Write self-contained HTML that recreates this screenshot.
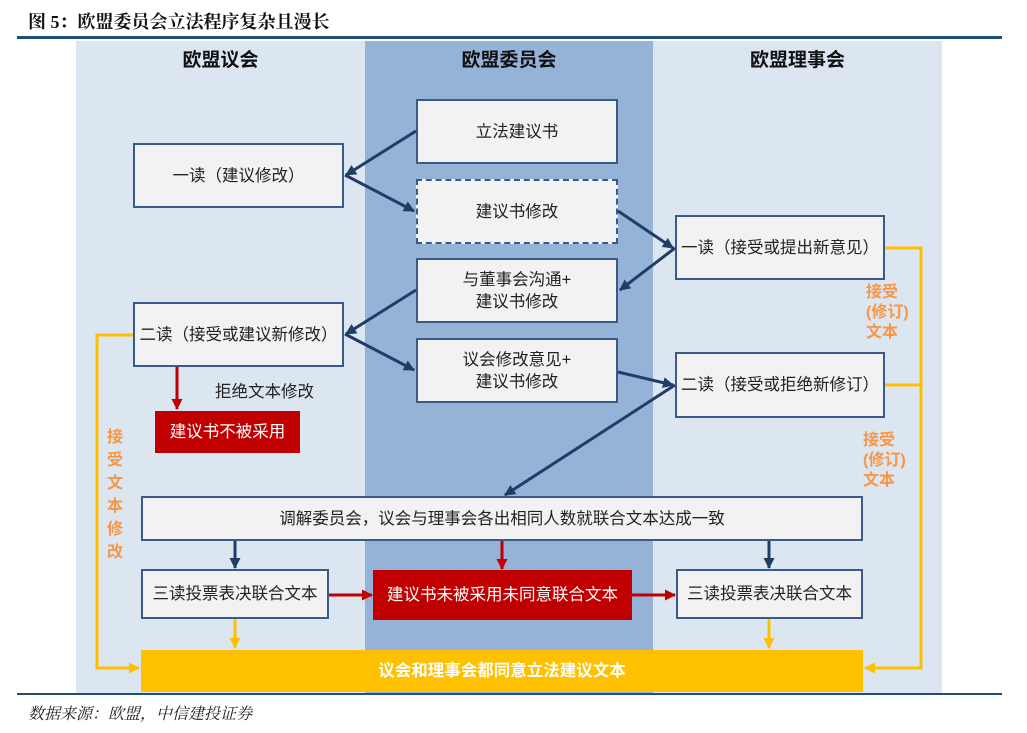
<!DOCTYPE html>
<html><head><meta charset="utf-8"><style>
body{margin:0;width:1027px;height:733px;background:#fff;position:relative;overflow:hidden;font-family:"Liberation Sans","Noto Sans CJK SC",sans-serif}
.a{position:absolute}
.box{position:absolute;box-sizing:border-box;background:#f2f2f2;border:2px solid #3a5a8a;display:flex;align-items:center;justify-content:center;text-align:center;font-size:16.5px;color:#222;line-height:22px;white-space:nowrap}
.hd{position:absolute;font-weight:bold;font-size:19px;color:#111;text-align:center}
.or{position:absolute;color:#f79646;font-weight:bold;font-size:16px;line-height:20px}
</style></head><body>
<div class="a" style="left:28px;top:8px;font-size:18px;font-weight:bold;color:#111;font-family:'Liberation Serif','Noto Serif CJK SC',serif">图 5：欧盟委员会立法程序复杂且漫长</div>
<div class="a" style="left:17px;top:36px;width:985px;height:3px;background:#1f4e79"></div>
<div class="a" style="left:76px;top:41px;width:289px;height:652px;background:#dce6f1"></div>
<div class="a" style="left:365px;top:41px;width:288px;height:652px;background:#95b3d7"></div>
<div class="a" style="left:653px;top:41px;width:289px;height:652px;background:#dce6f1"></div>
<div class="a" style="left:17px;top:693px;width:985px;height:2px;background:#1f4e79"></div>
<div class="a" style="left:28px;top:701px;font-size:16px;font-style:italic;color:#222;font-family:'Liberation Serif','Noto Serif CJK SC',serif">数据来源：欧盟，中信建投证券</div>
<div class="hd" style="left:76px;width:289px;top:45px">欧盟议会</div>
<div class="hd" style="left:365px;width:288px;top:45px">欧盟委员会</div>
<div class="hd" style="left:653px;width:289px;top:45px">欧盟理事会</div>

<div class="box" style="left:416px;top:99px;width:202px;height:65px">立法建议书</div>
<div class="box" style="left:133px;top:143px;width:211px;height:65px">一读（建议修改）</div>
<div class="box" style="left:416px;top:179px;width:202px;height:65px;border:2px dashed #3a5a8a">建议书修改</div>
<div class="box" style="left:416px;top:258px;width:202px;height:65px">与董事会沟通+<br>建议书修改</div>
<div class="box" style="left:416px;top:338px;width:202px;height:65px">议会修改意见+<br>建议书修改</div>
<div class="box" style="left:133px;top:302px;width:211px;height:65px">二读（接受或建议新修改）</div>
<div class="box" style="left:675px;top:215px;width:210px;height:65px">一读（接受或提出新意见）</div>
<div class="box" style="left:675px;top:352px;width:210px;height:66px">二读（接受或拒绝新修订）</div>
<div class="box" style="left:155px;top:411px;width:145px;height:42px;background:#c00000;border:none;color:#fff">建议书不被采用</div>
<div class="a" style="left:215px;top:378px;font-size:16.5px;color:#222">拒绝文本修改</div>
<div class="box" style="left:141px;top:496px;width:722px;height:45px">调解委员会，议会与理事会各出相同人数就联合文本达成一致</div>
<div class="box" style="left:141px;top:569px;width:188px;height:50px">三读投票表决联合文本</div>
<div class="box" style="left:373px;top:570px;width:259px;height:50px;background:#c00000;border:none;color:#fff">建议书未被采用未同意联合文本</div>
<div class="box" style="left:676px;top:569px;width:187px;height:50px">三读投票表决联合文本</div>
<div class="box" style="left:141px;top:650px;width:722px;height:42px;background:#ffc000;border:none;color:#fff;font-weight:bold">议会和理事会都同意立法建议文本</div>
<div class="or" style="left:866px;top:283px;width:56px">接受<br>(修订)<br>文本</div>
<div class="or" style="left:863px;top:431px;width:56px">接受<br>(修订)<br>文本</div>
<div class="or" style="left:107px;top:426px;width:18px;line-height:23px">接受文本修改</div>

<svg class="a" style="left:0;top:0" width="1027" height="733">
<defs>
<marker id="d" markerWidth="11" markerHeight="11" refX="10" refY="5.5" orient="auto" markerUnits="userSpaceOnUse"><path d="M0,0L11,5.5L0,11z" fill="#1f3d66"/></marker>
<marker id="r" markerWidth="11" markerHeight="11" refX="10" refY="5.5" orient="auto" markerUnits="userSpaceOnUse"><path d="M0,0L11,5.5L0,11z" fill="#c00000"/></marker>
<marker id="y" markerWidth="11" markerHeight="11" refX="10" refY="5.5" orient="auto" markerUnits="userSpaceOnUse"><path d="M0,0L11,5.5L0,11z" fill="#ffc000"/></marker>
</defs>
<g stroke="#1f3d66" stroke-width="3" fill="none" marker-end="url(#d)">
<line x1="416" y1="131" x2="346" y2="175"/>
<line x1="345" y1="175" x2="414" y2="211"/>
<line x1="618" y1="211" x2="673" y2="248"/>
<line x1="675" y1="248" x2="620" y2="290"/>
<line x1="416" y1="290" x2="346" y2="334"/>
<line x1="345" y1="334" x2="414" y2="370"/>
<line x1="618" y1="372" x2="673" y2="385"/>
<line x1="675" y1="385" x2="505" y2="495"/>
<line x1="235" y1="541" x2="235" y2="568"/>
<line x1="769" y1="541" x2="769" y2="568"/>
</g>
<g stroke="#c00000" stroke-width="3" fill="none" marker-end="url(#r)">
<line x1="177" y1="367" x2="177" y2="409"/>
<line x1="502" y1="541" x2="502" y2="569"/>
<line x1="329" y1="595" x2="372" y2="595"/>
<line x1="632" y1="595" x2="675" y2="595"/>
</g>
<g stroke="#ffc000" stroke-width="3" fill="none">
<polyline points="133,335 97,335 97,668 139,668" marker-end="url(#y)"/>
<polyline points="885,248 921,248 921,668 865,668" marker-end="url(#y)"/>
<line x1="885" y1="385" x2="921" y2="385"/>
<line x1="235" y1="619" x2="235" y2="648" marker-end="url(#y)"/>
<line x1="769" y1="619" x2="769" y2="648" marker-end="url(#y)"/>
</g>
</svg>
</body></html>
